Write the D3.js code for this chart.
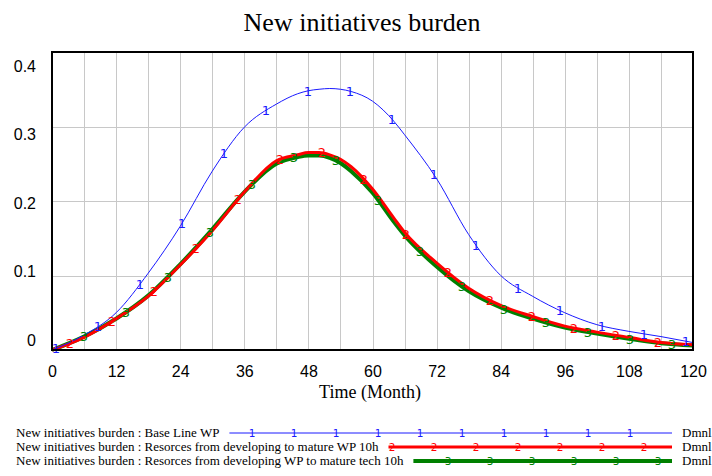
<!DOCTYPE html>
<html>
<head>
<meta charset="utf-8">
<script src="https://cdn.jsdelivr.net/npm/d3@7"></script>
<style>
  body { margin: 0; background: #fff; }
  svg { display: block; }
</style>
</head>
<body>
<div id="chart"></div>
<script>
(function () {

    // data (months / Dmnl)
    const months = [0, 6, 12, 18, 24, 30, 36, 42, 46, 48, 50, 52, 54, 56, 60, 64, 66, 72, 78, 84, 90, 96, 102, 108, 114, 120];
    const baseLine = [0, 0.020, 0.050, 0.103, 0.166, 0.240, 0.299, 0.330, 0.344, 0.348, 0.350, 0.351, 0.350, 0.347, 0.334, 0.307, 0.289, 0.230, 0.155, 0.100, 0.072, 0.050, 0.034, 0.025, 0.018, 0.010];
    const matureWP = [0, 0.017, 0.042, 0.072, 0.114, 0.160, 0.212, 0.254, 0.262, 0.265, 0.265, 0.262, 0.256, 0.246, 0.216, 0.177, 0.158, 0.117, 0.083, 0.060, 0.045, 0.032, 0.024, 0.017, 0.010, 0.007];
    const matureTech = [0, 0.018, 0.042, 0.073, 0.115, 0.162, 0.212, 0.250, 0.259, 0.261, 0.261, 0.258, 0.251, 0.240, 0.211, 0.172, 0.154, 0.112, 0.079, 0.057, 0.042, 0.030, 0.022, 0.015, 0.009, 0.006];

    const xTicks = [0, 12, 24, 36, 48, 60, 72, 84, 96, 108, 120];
    const yTicks = [0, 0.1, 0.2, 0.3, 0.4];
    const seriesNames = [
        'New initiatives burden : Base Line WP',
        'New initiatives burden : Resorces from developing to mature WP 10h',
        'New initiatives burden : Resorces from developing WP to mature tech 10h'
    ];

    const series = [
        { key: '1', name: seriesNames[0], values: baseLine, color: '#1a1aff', width: 1 },
        { key: '2', name: seriesNames[1], values: matureWP, color: '#ff0000', width: 3 },
        { key: '3', name: seriesNames[2], values: matureTech, color: '#008000', width: 4 }
    ];

    const width = 712;
    const height = 476;
    const plot = { left: 52, right: 693, top: 52, bottom: 350 };

    const svg = d3.select('#chart')
        .append('svg')
        .attr('width', width)
        .attr('height', height);

    const x = d3.scaleLinear().domain([0, 120]).range([plot.left, plot.right]);
    const y = d3.scaleLinear().domain([0, 0.4]).range([plot.bottom, plot.top]);

    const serif = '"Liberation Serif", "Times New Roman", serif';

    // title
    svg.append('text')
        .attr('x', 362)
        .attr('y', 31)
        .attr('text-anchor', 'middle')
        .style('font-family', serif)
        .style('font-size', '26px')
        .text('New initiatives burden');

    // grid
    const grid = svg.append('g').attr('stroke', '#c8c8c8').attr('stroke-width', 1);
    grid.selectAll('line.v')
        .data(d3.range(6, 120, 6))
        .join('line')
        .attr('class', 'v')
        .attr('x1', d => Math.round(x(d)) + 0.5)
        .attr('x2', d => Math.round(x(d)) + 0.5)
        .attr('y1', plot.top)
        .attr('y2', plot.bottom);
    grid.selectAll('line.h')
        .data(yTicks.slice(1, -1))
        .join('line')
        .attr('class', 'h')
        .attr('x1', plot.left)
        .attr('x2', plot.right)
        .attr('y1', d => Math.round(y(d)) + 0.5)
        .attr('y2', d => Math.round(y(d)) + 0.5);

    // axes (labels only)
    const tickFont = '"Liberation Sans", Arial, sans-serif';
    const xAxis = svg.append('g')
        .attr('transform', `translate(0,${plot.bottom + 13})`)
        .call(d3.axisBottom(x).tickValues(xTicks).tickSize(0).tickFormat(d3.format('d')));
    xAxis.select('.domain').remove();
    xAxis.selectAll('text')
        .style('font-family', tickFont)
        .style('font-size', '16px')
        .attr('fill', '#000');

    const yAxis = svg.append('g')
        .attr('transform', `translate(${plot.left - 13},0)`)
        .call(d3.axisLeft(y).tickValues(yTicks).tickSize(0).tickFormat(d => d === 0 ? '0' : d3.format('.1f')(d)));
    yAxis.select('.domain').remove();
    // vensim pushes the end labels inward: bottom one up, top one down
    yAxis.selectAll('.tick text')
        .style('font-family', tickFont)
        .style('font-size', '16px')
        .attr('fill', '#000')
        .attr('dy', d => (0.32 + (-10 + (d / 0.4) * 24) / 16) + 'em');

    svg.append('text')
        .attr('x', 370)
        .attr('y', 398)
        .attr('text-anchor', 'middle')
        .style('font-family', serif)
        .style('font-size', '18px')
        .text('Time (Month)');

    // lines
    const line = d3.line()
        .x(d => x(d[0]))
        .y(d => y(d[1]))
        .curve(d3.curveMonotoneX);

    const lines = svg.append('g');
    const drawOrder = [2, 1, 0];
    const paths = {};
    drawOrder.forEach(i => {
        const s = series[i];
        paths[i] = lines.append('path')
            .datum(months.map((m, j) => [m, s.values[j]]))
            .attr('d', line)
            .attr('fill', 'none')
            .attr('stroke', s.color)
            .attr('stroke-width', s.width)
            .attr('stroke-linejoin', 'round');
    });

    // find y on a path for a given screen x
    function yAtX(pathNode, px) {
        const total = pathNode.getTotalLength();
        let lo = 0, hi = total;
        for (let k = 0; k < 30; k++) {
            const mid = (lo + hi) / 2;
            if (pathNode.getPointAtLength(mid).x < px) lo = mid; else hi = mid;
        }
        return pathNode.getPointAtLength((lo + hi) / 2).y;
    }

    // number markers along the lines
    const markerFont = '"DejaVu Sans", sans-serif';
    series.forEach((s, i) => {
        const node = paths[i].node();
        const xs = d3.range(plot.left + 4 + 14 * i, plot.right - 2, 42);
        svg.append('g').selectAll('text')
            .data(xs)
            .join('text')
            .attr('x', d => d)
            .attr('y', d => yAtX(node, d))
            .attr('dy', '0.36em')
            .attr('text-anchor', 'middle')
            .attr('fill', s.color)
            .style('font-family', markerFont)
            .style('font-size', '13px')
            .text(s.key);
    });

    // frame
    svg.append('rect')
        .attr('x', plot.left)
        .attr('y', plot.top)
        .attr('width', plot.right - plot.left)
        .attr('height', plot.bottom - plot.top)
        .attr('fill', 'none')
        .attr('stroke', '#000')
        .attr('stroke-width', 2);

    // legend
    const legend = svg.append('g');
    const lineEnd = 672;
    series.forEach((s, i) => {
        const rowY = 437 + i * 14;
        const label = legend.append('text')
            .attr('x', 16)
            .attr('y', rowY)
            .style('font-family', serif)
            .style('font-size', '13px')
            .text(s.name);
        const start = label.node().getComputedTextLength() + 16 + 10;
        const midY = rowY - 4;
        legend.append('line')
            .attr('x1', start)
            .attr('x2', lineEnd)
            .attr('y1', midY)
            .attr('y2', midY)
            .attr('stroke', s.color)
            .attr('stroke-width', s.width);
        legend.append('g').selectAll('text')
            .data(d3.range(252 + 14 * i, lineEnd, 42).filter(d => d > start + 3))
            .join('text')
            .attr('x', d => d)
            .attr('y', midY)
            .attr('dy', '0.36em')
            .attr('text-anchor', 'middle')
            .attr('fill', s.color)
            .style('font-family', markerFont)
            .style('font-size', '10.5px')
            .text(s.key);
        legend.append('text')
            .attr('x', 682)
            .attr('y', rowY)
            .style('font-family', serif)
            .style('font-size', '13px')
            .text('Dmnl');
    });
})();
</script>
</body>
</html>
